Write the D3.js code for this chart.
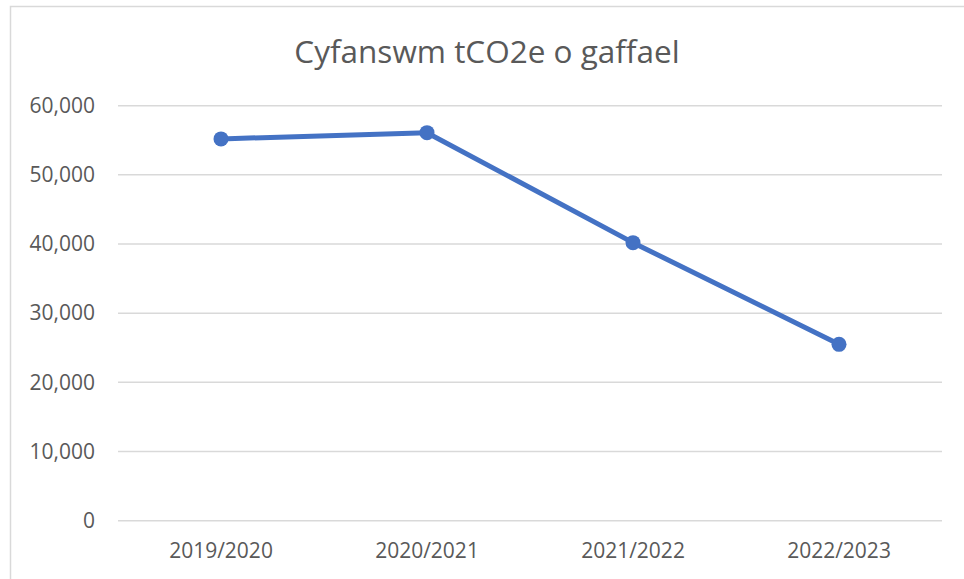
<!DOCTYPE html>
<html>
<head>
<meta charset="utf-8">
<script src="https://cdn.jsdelivr.net/npm/d3@7"></script>
<style>
  html, body { margin: 0; padding: 0; background: #fff; }
  svg { display: block; }
</style>
</head>
<body>
<svg id="chart" width="964" height="579"></svg>
<script>
const title = "Cyfanswm tCO2e o gaffael";
const categories = ["2019/2020", "2020/2021", "2021/2022", "2022/2023"];
const values = [55200, 56100, 40200, 25500];
const yTicks = [0, 10000, 20000, 30000, 40000, 50000, 60000];

const W = 964, H = 579;
const margin = { left: 118, right: 22, top: 105.7, bottom: 58.3 };
const FONT = "'Open Sans', 'Noto Sans', sans-serif";
const TEXT = "#595959";
const BLUE = "#4472C4";

const svg = d3.select("#chart");

// chart frame
svg.append("rect")
  .attr("x", 10.5).attr("y", 6.5)
  .attr("width", 980).attr("height", 600)
  .attr("fill", "#fff")
  .attr("stroke", "#d9d9d9").attr("stroke-width", 1.5);

const x = d3.scaleBand()
  .domain(categories)
  .range([margin.left, W - margin.right]);

const y = d3.scaleLinear()
  .domain([0, 60000])
  .range([H - margin.bottom, margin.top]);

// gridlines
svg.append("g")
  .selectAll("line")
  .data(yTicks)
  .join("line")
  .attr("x1", margin.left).attr("x2", W - margin.right)
  .attr("y1", d => y(d)).attr("y2", d => y(d))
  .attr("stroke", "#d9d9d9").attr("stroke-width", 1.5);

// y axis labels
const yAxis = d3.axisLeft(y)
  .tickValues(yTicks)
  .tickSize(0)
  .tickPadding(0)
  .tickFormat(d3.format(","));
const gy = svg.append("g")
  .attr("transform", `translate(95,0)`)
  .call(yAxis);
gy.select(".domain").remove();
gy.selectAll("text")
  .attr("fill", TEXT)
  .style("font-family", FONT)
  .style("font-size", "21px");

// x axis labels
const xAxis = d3.axisBottom(x).tickSize(0).tickPadding(0);
const gx = svg.append("g")
  .attr("transform", `translate(0,${H - margin.bottom})`)
  .call(xAxis);
gx.select(".domain").remove();
gx.selectAll("text")
  .attr("dy", "0")
  .attr("y", 37)
  .attr("fill", TEXT)
  .style("font-family", FONT)
  .style("font-size", "21px");

// line
const line = d3.line()
  .x((d, i) => x(categories[i]) + x.bandwidth() / 2)
  .y(d => y(d));

svg.append("path")
  .datum(values)
  .attr("d", line)
  .attr("fill", "none")
  .attr("stroke", BLUE)
  .attr("stroke-width", 5)
  .attr("stroke-linejoin", "round")
  .attr("stroke-linecap", "round");

svg.append("g")
  .selectAll("circle")
  .data(values)
  .join("circle")
  .attr("cx", (d, i) => x(categories[i]) + x.bandwidth() / 2)
  .attr("cy", d => y(d))
  .attr("r", 7.5)
  .attr("fill", BLUE);

// title
svg.append("text")
  .attr("x", 487)
  .attr("y", 63.3)
  .attr("text-anchor", "middle")
  .attr("fill", TEXT)
  .style("font-family", FONT)
  .style("font-size", "31.5px")
  .text(title);
</script>
</body>
</html>
